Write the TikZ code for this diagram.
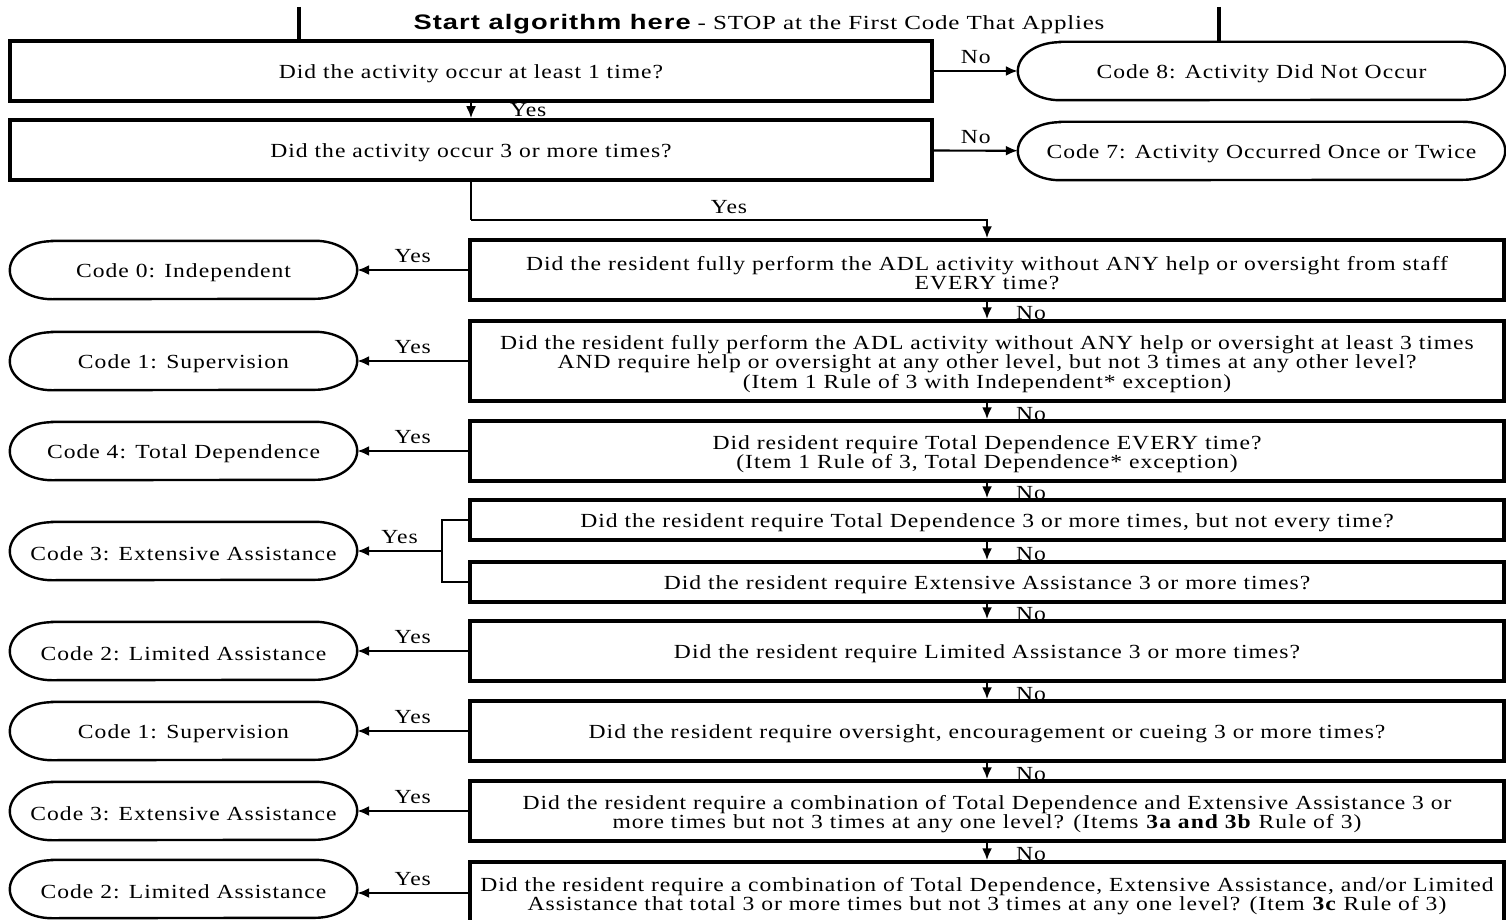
\documentclass[tikz,border=0pt]{standalone}
\usepackage{fontspec}
\setmainfont{Liberation Serif}[FakeStretch=1.18, LetterSpace=5]
\newfontfamily\headsans{Liberation Sans}[FakeStretch=1.3, LetterSpace=5]
\newfontfamily\headserif{Liberation Serif}[FakeStretch=1.25, LetterSpace=4]
\usetikzlibrary{arrows.meta}

\newcommand{\boxfont}{\fontsize{20}{19.5}\selectfont}
\newcommand{\topstrut}{\rule{0pt}{20pt}}

\tikzset{
    question/.style={draw=black, line width=3.5pt, minimum width=1034pt, minimum height=#1,
        inner sep=0pt, align=center, font=\boxfont, execute at begin node=\topstrut},
    question/.default=60pt,
    opener/.style={draw=black, line width=3.5pt, minimum width=922pt, minimum height=60pt,
        inner sep=0pt, align=center, font=\boxfont, execute at begin node=\topstrut},
    outcome/.style={minimum width=#1, minimum height=58pt, inner sep=0pt, font=\boxfont,
        execute at begin node=\topstrut,
        append after command={\pgfextra{\draw[line width=2.4pt]
            ([xshift=42pt]\tikzlastnode.north west) -- ([xshift=-42pt]\tikzlastnode.north east)
            arc[start angle=90, end angle=-90, x radius=42pt, y radius=29pt]
            -- ([xshift=42pt]\tikzlastnode.south west)
            arc[start angle=270, end angle=90, x radius=42pt, y radius=29pt] -- cycle;}}},
    outcome/.default=347pt,
    flow/.style={line width=2.2pt, ->},
    answer/.style={font=\boxfont, inner sep=2pt}
}

\begin{document}
\begin{tikzpicture}[x=1pt, y=-1pt, >={Latex[length=12pt, width=10pt]}]
    \useasboundingbox (0,0) rectangle (1506,920);
    \clip (0,0) rectangle (1506,920);

    % header
    \node[minimum width=920pt, minimum height=34pt, inner sep=0pt, font=\fontsize{20}{20}\selectfont] (hdr) at (759,24)
        {{\headsans\bfseries\fontsize{21}{21}\selectfont Start algorithm here} {\headserif - STOP at the First Code That Applies}};
    \draw[line width=3.5pt] (hdr.north west) -- (hdr.south west);
    \draw[line width=3.5pt] (hdr.north east) -- (hdr.south east);

    % first two checks
    \node[opener] (q1) at (471,71) {Did the activity occur at least 1 time?};
    \node[opener] (q2) at (471,150) {Did the activity occur 3 or more times?};
    \node[outcome=487pt] (c8) at (1261.5,71) {Code 8: Activity Did Not Occur};
    \node[outcome=487pt] (c7) at (1261.5,151) {Code 7: Activity Occurred Once or Twice};

    % question column
    \node[question] (q3) at (987,270) {\topstrut Did the resident fully perform the ADL activity without ANY help or oversight from staff\\EVERY time?};
    \node[question=80pt] (q4) at (987,361) {\topstrut Did the resident fully perform the ADL activity without ANY help or oversight at least 3 times\\AND require help or oversight at any other level, but not 3 times at any other level?\\(Item 1 Rule of 3 with Independent* exception)};
    \node[question] (q5) at (987,451) {\topstrut Did resident require Total Dependence EVERY time?\\(Item 1 Rule of 3, Total Dependence* exception)};
    \node[question=40pt] (q6) at (987,520) {Did the resident require Total Dependence 3 or more times, but not every time?};
    \node[question=40pt] (q7) at (987,582) {Did the resident require Extensive Assistance 3 or more times?};
    \node[question] (q8) at (987,651) {Did the resident require Limited Assistance 3 or more times?};
    \node[question] (q9) at (987,731) {Did the resident require oversight, encouragement or cueing 3 or more times?};
    \node[question] (q10) at (987,811) {\topstrut Did the resident require a combination of Total Dependence and Extensive Assistance 3 or\\more times but not 3 times at any one level? (Items \textbf{3a and 3b} Rule of 3)};
    \node[question=62pt] (q11) at (987,893) {\topstrut Did the resident require a combination of Total Dependence, Extensive Assistance, and/or Limited\\Assistance that total 3 or more times but not 3 times at any one level? (Item \textbf{3c} Rule of 3)};

    % codes
    \node[outcome] (t0) at (183.5,270) {Code 0: Independent};
    \node[outcome] (t1) at (183.5,361) {Code 1: Supervision};
    \node[outcome] (t4) at (183.5,451) {Code 4: Total Dependence};
    \node[outcome] (t3) at (183.5,551) {Code 3: Extensive Assistance};
    \node[outcome] (t2) at (183.5,651) {Code 2: Limited Assistance};
    \node[outcome] (t1b) at (183.5,731) {Code 1: Supervision};
    \node[outcome] (t3b) at (183.5,811) {Code 3: Extensive Assistance};
    \node[outcome] (t2b) at (183.5,889) {Code 2: Limited Assistance};
    \coordinate (jn) at (442,551);

    % flow
    \draw[flow] (q1) -- (c8) node[answer, midway, above=4pt] {No};
    \draw[flow] (q2) -- (c7) node[answer, midway, above=4pt] {No};
    \draw[flow] (q1) -- (q2) node[answer, midway, right=36pt] {Yes};
    \draw[line width=2.2pt] (q2.south) -- ++(0,38) coordinate (bend);
    \draw[flow] (bend) -| (q3) node[answer, pos=0.25, above=3pt] {Yes};

    \foreach \a/\b in {q3/q4, q4/q5, q5/q6, q6/q7, q7/q8, q8/q9, q9/q10, q10/q11}
        \draw[flow] (\a) -- (\b) node[answer, midway, right=26pt, yshift=-3pt] {No};

    \foreach \a/\b in {q3/t0, q4/t1, q5/t4, q8/t2, q9/t1b, q10/t3b, q11/t2b}
        \draw[flow] (\a.west) -- (\a.west -| \b.east) node[answer, midway, above=4pt] {Yes};

    \draw[line width=2.2pt] (q6.west) -| (jn) |- (q7.west);
    \draw[flow] (jn) -- (t3) node[answer, midway, above=4pt] {Yes};

\end{tikzpicture}
\end{document}
